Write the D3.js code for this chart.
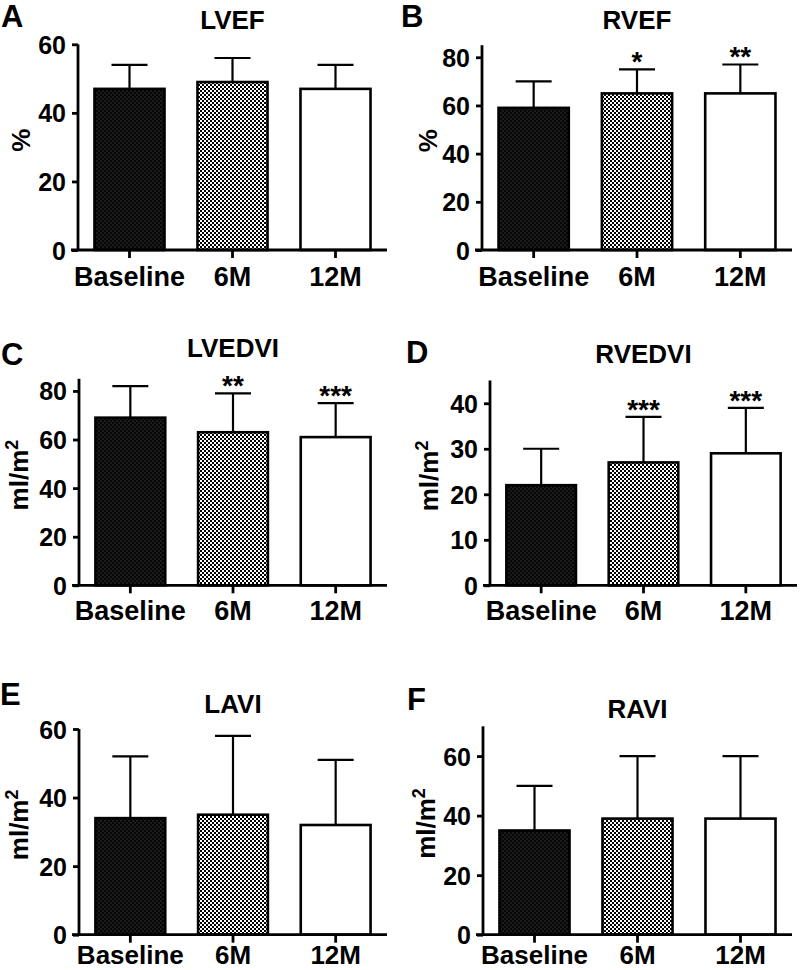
<!DOCTYPE html>
<html>
<head>
<meta charset="utf-8">
<script src="https://cdn.jsdelivr.net/npm/d3@7"></script>
<style>
  body { margin: 0; background: #fff; }
  svg { display: block; }
  text { font-family: "Liberation Sans", Arial, Helvetica, sans-serif; font-weight: bold; fill: #000; }
</style>
</head>
<body>
<svg id="chart" width="800" height="970"></svg>
<script>
// ---------- DATA ----------
const categories = ["Baseline", "6M", "12M"];
const panelLetters = ["A", "B", "C", "D", "E", "F"];
const panelTitles = ["LVEF", "RVEF", "LVEDVI", "RVEDVI", "LAVI", "RAVI"];
const yAxisLabels = ["%", "%", "ml/m2", "ml/m2", "ml/m2", "ml/m2"];

const lvefMean = [47, 49, 47];
const lvefSD = [7, 7, 7];
const rvefMean = [59, 65, 65];
const rvefSD = [11, 10, 12];
const lvedviMean = [69, 63, 61];
const lvedviSD = [13, 16, 14];
const rvedviMean = [22, 27, 29];
const rvedviSD = [8, 10, 10];
const laviMean = [34, 35, 32];
const laviSD = [18, 23, 19];
const raviMean = [35, 39, 39];
const raviSD = [15, 21, 21];

const rvefSig = ["", "*", "**"];
const lvedviSig = ["", "**", "***"];
const rvedviSig = ["", "***", "***"];
const noSig = ["", "", ""];

const lvefTicks = [0, 20, 40, 60];
const rvefTicks = [0, 20, 40, 60, 80];
const lvedviTicks = [0, 20, 40, 60, 80];
const rvedviTicks = [0, 10, 20, 30, 40];
const laviTicks = [0, 20, 40, 60];
const raviTicks = [0, 20, 40, 60];

const yMaxValues = [60, 85, 85, 45, 60, 70];

// ---------- LAYOUT ----------
const layout = [
  { axisX: 78,  xEnd: 387, y0: 250,   yTop: 44.3,  titleY: 28.5, letterX: 1,   letterY: 27,  labelX: 30,  xLabOff: 36,   xLabSize: 27 },
  { axisX: 482, xEnd: 792, y0: 250,   yTop: 45.2,  titleY: 28.5, letterX: 401, letterY: 27,  labelX: 437, xLabOff: 36,   xLabSize: 27 },
  { axisX: 79,  xEnd: 387, y0: 585.3, yTop: 378.8, titleY: 357,  letterX: 1,   letterY: 365, labelX: 28,  xLabOff: 35,   xLabSize: 27 },
  { axisX: 490, xEnd: 797, y0: 585.3, yTop: 380.5, titleY: 363,  letterX: 406, letterY: 363, labelX: 438, xLabOff: 35,   xLabSize: 27 },
  { axisX: 79,  xEnd: 387, y0: 934.7, yTop: 729,   titleY: 713,  letterX: 0,   letterY: 705, labelX: 28,  xLabOff: 29.5, xLabSize: 26 },
  { axisX: 483, xEnd: 792, y0: 934.7, yTop: 726.3, titleY: 718,  letterX: 407, letterY: 710, labelX: 435, xLabOff: 29.5, xLabSize: 26 }
];

const panels = [
  { mean: lvefMean, sd: lvefSD, sig: noSig, ticks: lvefTicks },
  { mean: rvefMean, sd: rvefSD, sig: rvefSig, ticks: rvefTicks },
  { mean: lvedviMean, sd: lvedviSD, sig: lvedviSig, ticks: lvedviTicks },
  { mean: rvedviMean, sd: rvedviSD, sig: rvedviSig, ticks: rvedviTicks },
  { mean: laviMean, sd: laviSD, sig: noSig, ticks: laviTicks },
  { mean: raviMean, sd: raviSD, sig: noSig, ticks: raviTicks }
];

const svg = d3.select("#chart");

// ---------- PATTERNS ----------
const defs = svg.append("defs");
const pDark = defs.append("pattern").attr("id", "darkCheck")
  .attr("patternUnits", "userSpaceOnUse").attr("width", 4).attr("height", 4);
pDark.append("rect").attr("width", 4).attr("height", 4).attr("fill", "#050505");
pDark.append("rect").attr("x", 0).attr("y", 0).attr("width", 2).attr("height", 2).attr("fill", "#1c1c1c");
pDark.append("rect").attr("x", 2).attr("y", 2).attr("width", 2).attr("height", 2).attr("fill", "#1c1c1c");

const pLight = defs.append("pattern").attr("id", "lightCheck")
  .attr("patternUnits", "userSpaceOnUse").attr("width", 4).attr("height", 4);
pLight.append("rect").attr("width", 4).attr("height", 4).attr("fill", "#000");
pLight.append("rect").attr("x", 0).attr("y", 0).attr("width", 2).attr("height", 2).attr("fill", "#fff");
pLight.append("rect").attr("x", 2).attr("y", 2).attr("width", 2).attr("height", 2).attr("fill", "#fff");

const fills = ["url(#darkCheck)", "url(#lightCheck)", "#fff"];

panels.forEach((p, i) => {
  const L = layout[i];
  const g = svg.append("g");

  const x = d3.scaleBand().domain(categories).range([L.axisX, L.xEnd])
    .paddingInner(0.32).paddingOuter(0.16);
  const y = d3.scaleLinear().domain([0, yMaxValues[i]]).range([L.y0, L.yTop]);

  // bars
  g.selectAll("rect.bar").data(categories).enter().append("rect")
    .attr("class", "bar")
    .attr("x", d => x(d))
    .attr("width", x.bandwidth())
    .attr("y", (d, k) => y(p.mean[k]))
    .attr("height", (d, k) => y(0) - y(p.mean[k]))
    .attr("fill", (d, k) => fills[k])
    .attr("stroke", "#000")
    .attr("stroke-width", 2.6);

  // error bars (upper only)
  categories.forEach((c, k) => {
    const cx = x(c) + x.bandwidth() / 2;
    const top = y(p.mean[k] + p.sd[k]);
    g.append("line").attr("x1", cx).attr("x2", cx)
      .attr("y1", y(p.mean[k])).attr("y2", top)
      .attr("stroke", "#000").attr("stroke-width", 2.2);
    g.append("line").attr("x1", cx - 18).attr("x2", cx + 18)
      .attr("y1", top).attr("y2", top)
      .attr("stroke", "#000").attr("stroke-width", 2.2);
    if (p.sig[k]) {
      g.append("text").attr("x", cx).attr("y", top + 2)
        .attr("text-anchor", "middle").attr("font-size", 28)
        .text(p.sig[k]);
    }
  });

  // y axis
  const yAxis = d3.axisLeft(y).tickValues(p.ticks).tickSize(6).tickPadding(6).tickSizeOuter(0)
    .tickFormat(d3.format("d"));
  const ya = g.append("g").attr("transform", `translate(${L.axisX},0)`).call(yAxis);
  ya.select(".domain").attr("stroke", "#000").attr("stroke-width", 2.8)
    .attr("d", `M0,${L.y0}V${L.yTop}`);
  ya.selectAll(".tick line").attr("stroke", "#000").attr("stroke-width", 2.8);
  ya.selectAll(".tick text").attr("font-size", 25).attr("font-family", null).attr("fill", "#000").attr("dy", "0.36em");

  // x axis
  const xAxis = d3.axisBottom(x).tickSize(8).tickPadding(6).tickSizeOuter(0);
  const xa = g.append("g").attr("transform", `translate(0,${L.y0})`).call(xAxis);
  xa.select(".domain").attr("stroke", "#000").attr("stroke-width", 2.8)
    .attr("d", `M${L.axisX - 7},0H${L.xEnd}`);
  xa.selectAll(".tick line").attr("stroke", "#000").attr("stroke-width", 2.8);
  xa.selectAll(".tick text").attr("font-size", L.xLabSize).attr("font-family", null).attr("fill", "#000")
    .attr("y", 0).attr("dy", 0).attr("transform", `translate(0,${L.xLabOff})`);

  // title
  g.append("text").attr("x", x("6M") + x.bandwidth() / 2).attr("y", L.titleY)
    .attr("text-anchor", "middle").attr("font-size", 26).text(panelTitles[i]);

  // panel letter
  g.append("text").attr("x", L.letterX).attr("y", L.letterY)
    .attr("font-size", 31).text(panelLetters[i]);

  // y axis label
  const midY = (L.y0 + L.yTop) / 2 - 7;
  const lab = g.append("text")
    .attr("transform", `translate(${L.labelX},${midY}) rotate(-90)`)
    .attr("text-anchor", "middle").attr("font-size", 26);
  if (yAxisLabels[i] === "ml/m2") {
    lab.append("tspan").text("ml/m");
    lab.append("tspan").attr("font-size", 18).attr("dy", -10).text("2");
  } else {
    lab.text(yAxisLabels[i]);
  }
});
</script>
</body>
</html>
